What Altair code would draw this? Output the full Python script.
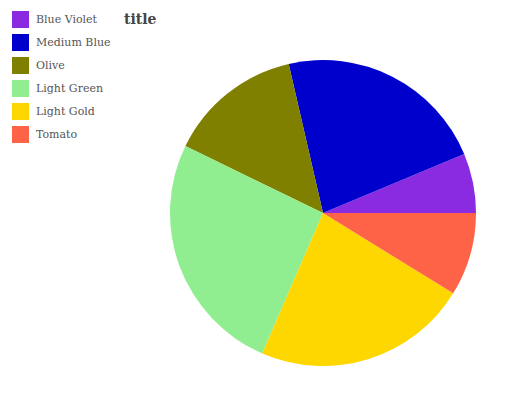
import math
import altair as alt
import pandas as pd

categories = ["Blue Violet", "Medium Blue", "Olive", "Light Green", "Light Gold", "Tomato"]
values = [6.3, 22.3, 14.2, 25.7, 22.7, 8.8]
colors = ["#8A2BE2", "#0000CD", "#808000", "#90EE90", "#FFD700", "#FF6347"]

df = pd.DataFrame({"category": categories, "value": values, "idx": list(range(len(categories)))})

start = math.pi / 2
chart = alt.Chart(df).mark_arc(stroke=None).encode(
    theta=alt.Theta("value:Q", stack=True, scale=alt.Scale(range=[start, start - 2 * math.pi])),
    color=alt.Color(
        "category:N",
        scale=alt.Scale(domain=categories, range=colors),
        sort=categories,
        legend=alt.Legend(
            title=None,
            orient="none",
            legendX=4,
            legendY=-27,
            symbolType="square",
            symbolSize=289,
            symbolStrokeWidth=0,
            rowPadding=6,
            labelOffset=7,
            labelFont="DejaVu Serif",
            labelFontSize=11,
            labelColor="#555555",
        ),
    ),
    order=alt.Order("idx:Q"),
    x=alt.value(315),
    y=alt.value(175),
    radius=alt.value(153),
).properties(
    width=516,
    height=346,
    autosize=alt.AutoSizeParams(type="none"),
    padding={"left": 0, "right": 0, "top": 30, "bottom": 0},
    title=alt.TitleParams(
        "title",
        anchor="start",
        dx=116,
        dy=22,
        font="DejaVu Serif",
        fontSize=14,
        fontWeight="bold",
        color="#444444",
        offset=6,
    ),
).configure_view(stroke=None)

chart.save("out.html", embed_options={"renderer": "svg", "actions": False})
